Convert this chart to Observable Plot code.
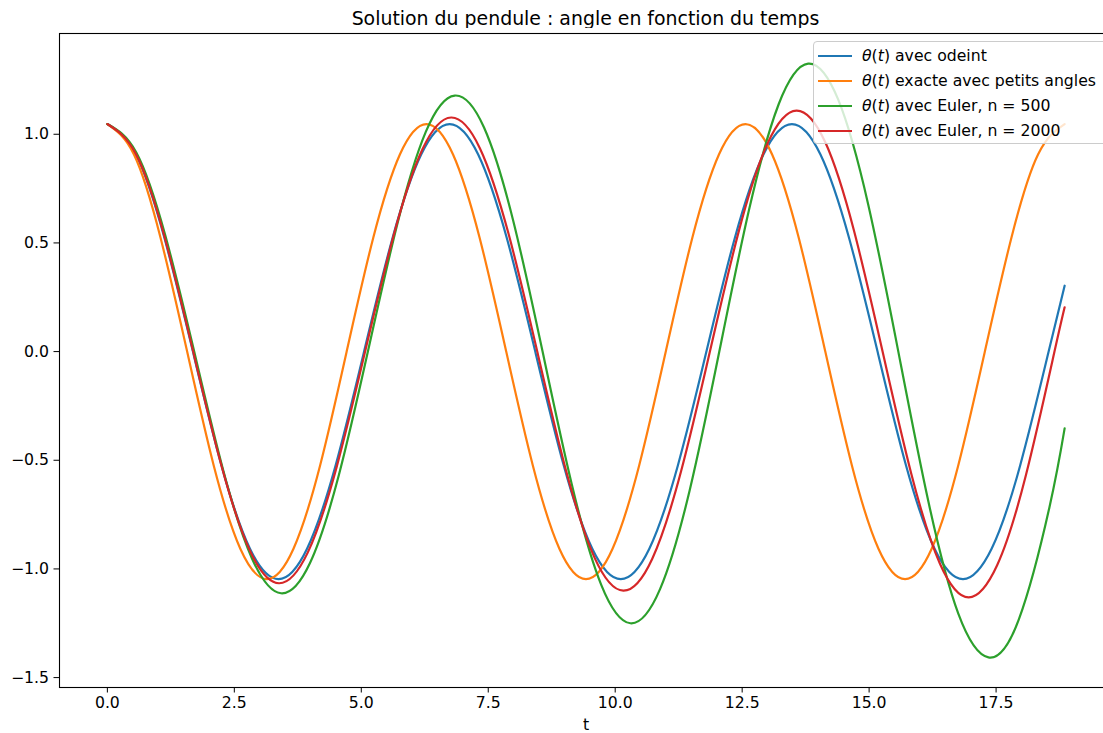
<!DOCTYPE html>
<html>
<head>
<meta charset="utf-8">
<script src="https://cdn.jsdelivr.net/npm/d3@7"></script>
<script src="https://cdn.jsdelivr.net/npm/@observablehq/plot@0.6"></script>
<style>
  html, body { margin: 0; padding: 0; background: #fff; overflow: hidden; }
  body { font-family: "DejaVu Sans", sans-serif; color: #000; }
  #wrap { position: relative; width: 1103px; height: 733px; overflow: hidden; }
  #title { position: absolute; left: 59px; width: 1053px; top: 6px; line-height: 24px; text-align: center; font-size: 18.9px; }
  #chart { position: absolute; left: 0; top: 28px; }
  #legend { position: absolute; left: 813px; top: 41px; width: 320px; height: 103px; box-sizing: border-box;
            background: rgba(255,255,255,0.8); border: 1px solid #cccccc; border-radius: 4px; }
  .row { position: absolute; left: 0; height: 20px; font-size: 15.7px; line-height: 20px; white-space: nowrap; }
  .swatch { position: absolute; left: 4px; top: 9px; width: 34px; height: 2.2px; }
  .lab { position: absolute; left: 48px; top: 0; }
  .lab i { font-style: italic; }
</style>
</head>
<body>
<div id="wrap">
  <div id="title"></div>
  <div id="chart"></div>
  <div id="legend"></div>
</div>
<script>
// ---- data ----
const titleText = "Solution du pendule : angle en fonction du temps";
const xLabel = "t";
const xTicks = [0, 2.5, 5, 7.5, 10, 12.5, 15, 17.5];
const yTicks = [-1.5, -1.0, -0.5, 0.0, 0.5, 1.0];

const seriesNames = ["odeint", "petits", "euler500", "euler2000"];
const seriesLabels = [
  "avec odeint",
  "exacte avec petits angles",
  "avec Euler, n = 500",
  "avec Euler, n = 2000"
];
const seriesColors = ["#1f77b4", "#ff7f0e", "#2ca02c", "#d62728"];

// θ(t) avec odeint
const tOdeint = [0,0.562,1.123,1.685,2.247,2.808,3.370,3.932,4.494,5.055,5.617,6.179,
  6.740,7.302,7.864,8.426,8.987,9.549,10.110,10.672,11.234,11.796,12.357,12.919,
  13.480,14.042,14.604,15.166,15.727,16.289,16.850,17.412,17.974,18.535,18.850];
const vOdeint = [1.047,0.907,0.524,0,-0.524,-0.907,-1.047,-0.907,-0.524,0,0.524,0.907,
  1.047,0.907,0.524,0,-0.524,-0.907,-1.047,-0.907,-0.524,0,0.524,0.907,
  1.047,0.907,0.524,0,-0.524,-0.907,-1.047,-0.907,-0.524,0,0.303];

// θ(t) exacte avec petits angles
const tPetits = [0,0.524,1.047,1.571,2.094,2.618,3.142,3.665,4.189,4.712,5.236,5.760,
  6.283,6.807,7.330,7.854,8.378,8.901,9.425,9.948,10.472,10.996,11.519,12.043,
  12.566,13.090,13.614,14.137,14.661,15.184,15.708,16.232,16.755,17.279,17.802,18.326,18.850];
const vPetits = [1.047,0.907,0.524,0,-0.524,-0.907,-1.047,-0.907,-0.524,0,0.524,0.907,
  1.047,0.907,0.524,0,-0.524,-0.907,-1.047,-0.907,-0.524,0,0.524,0.907,
  1.047,0.907,0.524,0,-0.524,-0.907,-1.047,-0.907,-0.524,0,0.524,0.907,1.047];

// θ(t) avec Euler, n = 500
const tEuler500 = [0,0.570,1.140,1.710,2.280,2.850,3.420,
  3.990,4.560,5.130,5.700,6.270,6.840,
  7.417,7.993,8.570,9.147,9.723,10.300,
  10.883,11.467,12.050,12.633,13.217,13.800,
  14.392,14.983,15.575,16.167,16.758,17.350,
  17.950,18.550,18.850];
const vEuler500 = [1.047,0.916,0.535,0,-0.545,-0.953,-1.112,
  -0.973,-0.567,0,0.578,1.011,1.178,
  1.031,0.601,0,-0.613,-1.072,-1.250,
  -1.093,-0.638,0,0.650,1.137,1.325,
  1.159,0.676,0,-0.690,-1.207,-1.407,
  -1.231,-0.717,-0.353];

// θ(t) avec Euler, n = 2000
const tEuler2000 = [0,0.563,1.127,1.690,2.253,2.817,3.380,
  3.945,4.510,5.075,5.640,6.205,6.770,
  7.335,7.900,8.465,9.030,9.595,10.160,
  10.728,11.297,11.865,12.433,13.002,13.570,
  14.135,14.700,15.265,15.830,16.395,16.960,
  17.523,18.087,18.650,18.850];
const vEuler2000 = [1.047,0.909,0.527,0,-0.530,-0.921,-1.066,
  -0.925,-0.535,0,0.537,0.931,1.077,
  0.936,0.542,0,-0.546,-0.949,-1.100,
  -0.954,-0.551,0,0.553,0.959,1.109,
  0.964,0.558,0,-0.562,-0.976,-1.131,
  -0.982,-0.569,0,0.204];

// ---- build table ----
const seriesT = [tOdeint, tPetits, tEuler500, tEuler2000];
const seriesV = [vOdeint, vPetits, vEuler500, vEuler2000];
const data = [];
seriesNames.forEach((name, i) => {
  seriesT[i].forEach((t, j) => data.push({ s: name, t, v: seriesV[i][j] }));
});

const fmt = d => d.toFixed(1).replace("-", "\u2212");

const chart = Plot.plot({
  width: 1103,
  height: 705,
  marginTop: 5,
  marginBottom: 46,
  marginLeft: 59,
  marginRight: -9,
  x: { domain: [-0.9425, 19.7925], ticks: xTicks, tickFormat: fmt, label: null, tickSize: 5.5, tickPadding: 4 },
  y: { domain: [-1.5456, 1.4636], ticks: yTicks, tickFormat: fmt, label: null, tickSize: 5.5, tickPadding: 5 },
  color: { domain: seriesNames, range: seriesColors },
  style: { fontFamily: "'DejaVu Sans', sans-serif", fontSize: "15.7px", color: "#000", background: "#fff" },
  marks: [
    Plot.frame({ stroke: "#000", strokeWidth: 1.1 }),
    ...seriesNames.map(name =>
      Plot.line(data.filter(d => d.s === name), { x: "t", y: "v", stroke: "s", strokeWidth: 2.2, curve: "natural" })
    ),
    Plot.text([xLabel], { text: d => d, frameAnchor: "bottom", dy: 42, fontSize: 15.7, fill: "#000" })
  ]
});
document.getElementById("chart").appendChild(chart);
document.getElementById("title").textContent = titleText;

// legend
const legend = document.getElementById("legend");
const rowTops = [4, 29, 54, 78.5];
seriesLabels.forEach((lab, i) => {
  const row = document.createElement("div");
  row.className = "row";
  row.style.top = rowTops[i] + "px";
  const sw = document.createElement("div");
  sw.className = "swatch";
  sw.style.background = seriesColors[i];
  const tx = document.createElement("div");
  tx.className = "lab";
  tx.innerHTML = "<i>\u03b8</i>(<i>t</i>) " + lab;
  row.appendChild(sw);
  row.appendChild(tx);
  legend.appendChild(row);
});
</script>
</body>
</html>
